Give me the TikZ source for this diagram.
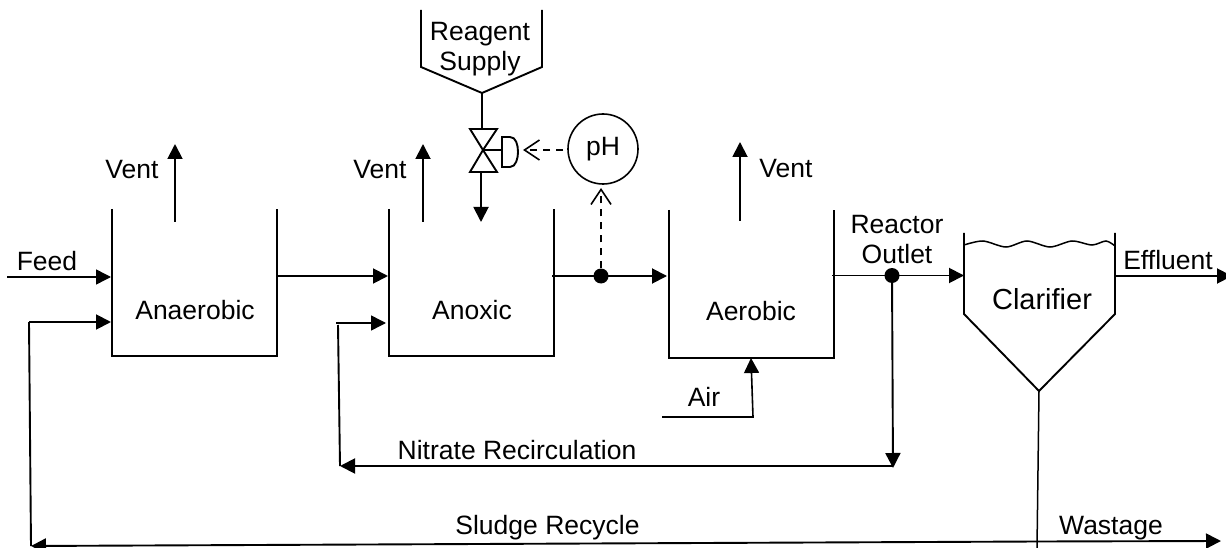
\documentclass[tikz,border=0pt]{standalone}
\usepackage{fontspec}
\setmainfont{Liberation Sans}
\usetikzlibrary{arrows.meta}
\tikzset{
  x=1pt,y=-1pt,
  ln/.style={line width=1.9pt,line join=miter,black},
  flow/.style={ln,-{Triangle[length=15pt,width=15pt]}},
  sig/.style={line width=1.6pt,dashed,dash pattern=on 7pt off 6pt,-{Straight Barb[length=15pt,width=20pt,line width=1.6pt]}},
  lab/.style={font=\fontsize{26.5}{30}\selectfont,inner sep=0pt,align=center,text depth=0pt},
  joint/.style={circle,fill=black,minimum size=15pt,inner sep=0pt,draw=none}
}
\begin{document}
\begin{tikzpicture}
\useasboundingbox (0,0) rectangle (1226,548);
% reservoirs
\coordinate (t1a) at (112,209); \coordinate (t1b) at (112,356); \coordinate (t1c) at (277,356); \coordinate (t1d) at (277,209);
\coordinate (t2a) at (389,209); \coordinate (t2b) at (389,356); \coordinate (t2c) at (554,356); \coordinate (t2d) at (554,209);
\coordinate (t3a) at (669,210); \coordinate (t3b) at (669,358); \coordinate (t3c) at (834,358); \coordinate (t3d) at (834,210);
\draw[ln] (t1a)--(t1b)--(t1c)--(t1d);
\draw[ln] (t2a)--(t2b)--(t2c)--(t2d);
\draw[ln] (t3a)--(t3b)--(t3c)--(t3d);
% clarifier
\coordinate (c1) at (964,233); \coordinate (c2) at (964,314); \coordinate (apex) at (1039,391);
\coordinate (c3) at (1115,314); \coordinate (c4) at (1115,233);
\draw[ln] (c1)--(c2)--(apex)--(c3)--(c4);
\draw[line width=1.5pt] plot[smooth] coordinates {(964,245) (983,241) (1006,247) (1027,241) (1050,247) (1072,241) (1092,245) (1106,241) (1115,246)};
% hopper
\coordinate (h1) at (421,10); \coordinate (h2) at (421,67); \coordinate (h3) at (482,93); \coordinate (h4) at (542,67); \coordinate (h5) at (542,10);
\draw[ln] (h1)--(h2)--(h3)--(h4)--(h5);
% labels
\node[lab] (lfeed) at (47,261) {Feed};
\node[lab] (lana) at (195,310) {Anaerobic};
\node[lab] (lanox) at (472,310) {Anoxic};
\node[lab] (laer) at (751,311) {Aerobic};
\node[lab] (lclar) at (1042,299) {\fontsize{29}{33}\selectfont Clarifier};
\node[lab] (lv1) at (132,169) {Vent};
\node[lab] (lv2) at (380,169) {Vent};
\node[lab] (lv3) at (786,168) {Vent};
\node[lab] (lrs) at (480,46) {Reagent\\Supply};
\node[lab] (lro) at (897,239) {Reactor\\Outlet};
\node[lab] (leff) at (1168,260) {Effluent};
\node[lab] (lair) at (704,397) {Air};
\node[lab] (lnit) at (517,450) {Nitrate Recirculation};
\node[lab] (lsl) at (547.5,525) {Sludge Recycle};
\node[lab] (lwa) at (1111,525) {Wastage};
% pH
\node[circle,draw,line width=1.6pt,minimum size=70pt,inner sep=0pt,font=\fontsize{26.5}{30}\selectfont] (ph) at (603,149) {pH};
% joints
\node[joint] (j1) at (601,276) {};
\node[joint] (j2) at (892,275.5) {};
% valve
\coordinate (v) at (483,150);
\coordinate (vtl) at (470,129); \coordinate (vtr) at (497,129); \coordinate (vbl) at (470,172); \coordinate (vbr) at (497,172);
\draw[ln] (v)--(vtl)--(vtr)--cycle;
\draw[ln] (v)--(vbl)--(vbr)--cycle;
\coordinate (act) at (502,150);
\coordinate (acta) at (502,137); \coordinate (actb) at (502,167);
\draw[ln] (v)--(act);
\draw[ln] (acta)--(actb)--(510,167) .. controls (516,167) and (518,158) .. (518,152) .. controls (518,145) and (516,137) .. (510,137) -- cycle;
\coordinate (vtop) at (482,129); \coordinate (vbot) at (481,172); \coordinate (vout) at (481,222);
\draw[ln] (h3)--(vtop);
\draw[flow] (vbot)--(vout);
% signal lines
\coordinate (acte) at (523,150);
\draw[sig] (ph.west)++(-4,1) -- (acte);
\coordinate (phb) at (601,188);
\draw[sig] (j1) -- (phb);
% vents
\coordinate (v1a) at (175,222); \coordinate (v1b) at (175,144);
\coordinate (v2a) at (423,222); \coordinate (v2b) at (423,144);
\coordinate (v3a) at (740,221); \coordinate (v3b) at (740,142);
\draw[flow] (v1a)--(v1b);
\draw[flow] (v2a)--(v2b);
\draw[flow] (v3a)--(v3b);
% process flow
\coordinate (f0) at (7,277); \coordinate (f1) at (111,277);
\draw[flow,line width=1.5pt] (f0)--(f1);
\coordinate (a1) at (278,276); \coordinate (a2) at (388,276);
\draw[flow] (a1)--(a2);
\coordinate (b1) at (552,276); \coordinate (b2) at (667,276);
\draw[flow] (b1)--(j1.center)--(b2);
\coordinate (d1) at (832,275.5); \coordinate (d2) at (964,275.5);
\draw[flow] (d1)--(j2.center)--(d2);
\coordinate (e1) at (1115,276); \coordinate (e2) at (1232,276);
\draw[flow] (e1)--(e2);
% nitrate recirculation
\coordinate (n1) at (893,466); \coordinate (n0) at (893,468); \coordinate (n2) at (340,466); \coordinate (n3) at (338,325);
\coordinate (n4) at (336,323); \coordinate (n5) at (386,323);
\draw[flow] (j2.center)--(n0);
\draw[flow] (n1)--(n2);
\draw[ln] (n2)--(n3);
\draw[flow,line width=1.5pt] (n4)--(n5);
% air
\coordinate (r0) at (662,417); \coordinate (r1) at (753,417); \coordinate (r2) at (751,358);
\draw[flow,line width=1.6pt] (r0)--(r1)--(r2);
% sludge
\coordinate (s0) at (1037,548);
\draw[ln,line width=1.5pt] (apex)--(s0);
\coordinate (w0) at (1037,541.5); \coordinate (w1) at (1221,541);
\draw[flow] (w0)--(w1);
\coordinate (s2) at (31,546);
\draw[flow] (w0)--(s2);
\coordinate (s3) at (29,322); \coordinate (s4) at (111,322);
\draw[ln] (s2)--(s3);
\draw[flow] (s3)--(s4);
\end{tikzpicture}
\end{document}
